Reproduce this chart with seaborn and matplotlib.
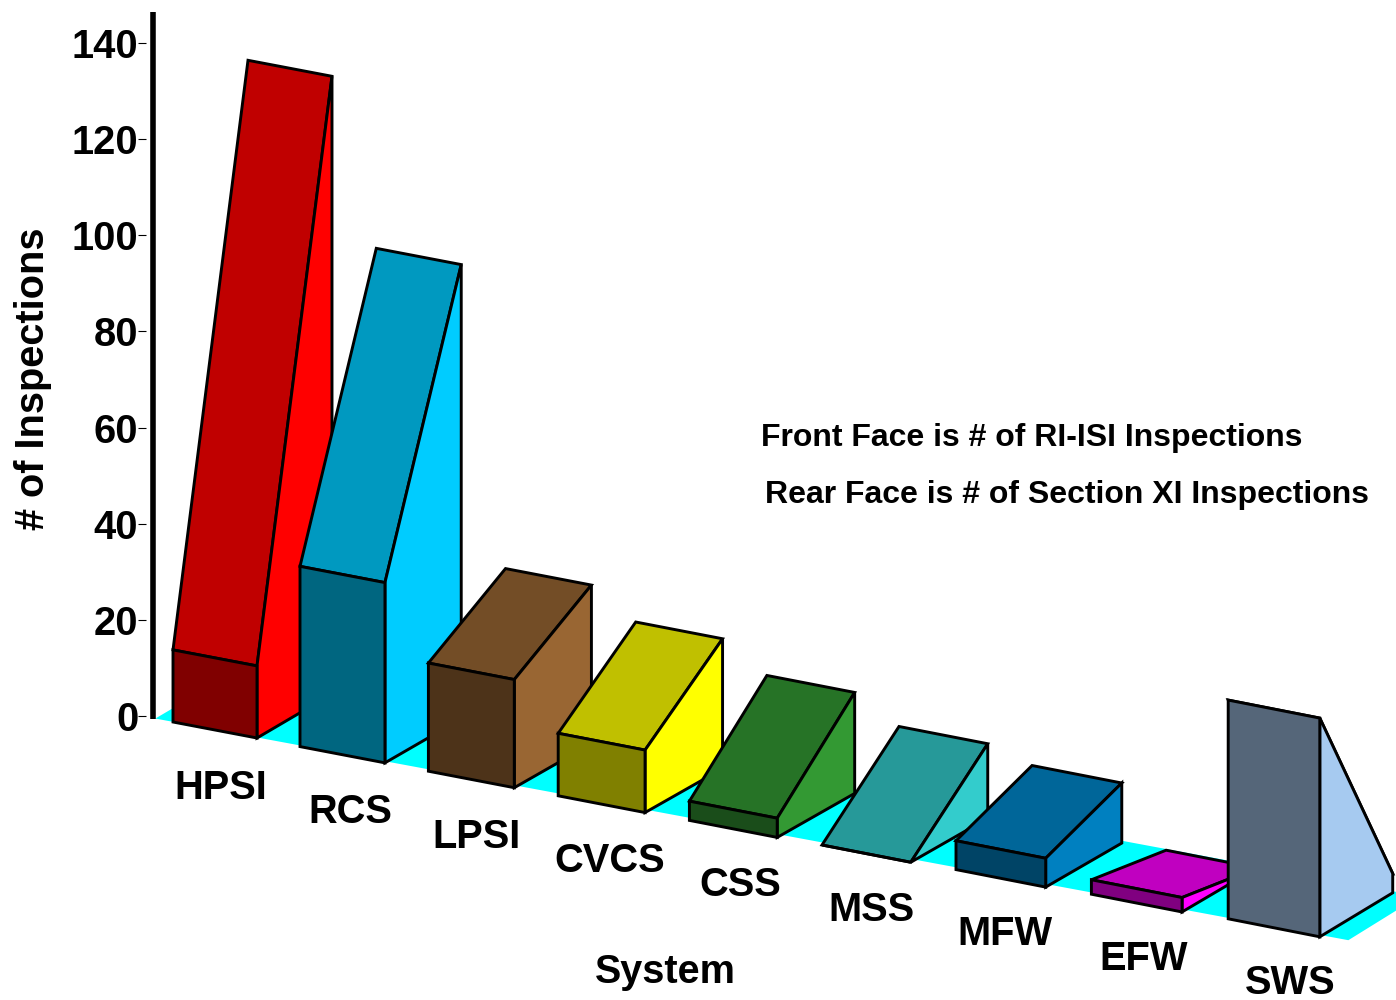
import matplotlib
matplotlib.use("Agg")
import matplotlib.pyplot as plt
import seaborn as sns

systems = ["HPSI", "RCS", "LPSI", "CVCS", "CSS", "MSS", "MFW", "EFW", "SWS"]
ri_isi = [15, 37.5, 22.5, 13, 4, 0, 6, 3, 45.5]
section_xi = [128.5, 94.5, 33, 27, 21, 15.5, 12.5, 0, 4]
y_ticks = [0, 20, 40, 60, 80, 100, 120, 140]
front_colors = ["#800000", "#006680", "#4D3319", "#808000", "#1A4D1A", "#269999", "#004466", "#800080", "#556679"]
top_colors = ["#C00000", "#0099C0", "#734D26", "#C0C000", "#267326", "#269999", "#006699", "#C000C0", "#556679"]
side_colors = ["#FF0000", "#00CCFF", "#996633", "#FFFF00", "#339933", "#33CCCC", "#0080C0", "#FF00FF", "#A6CAF0"]
label_nudge = [1, 2, -2, 0, -2, -5, -7, -5, 3]

sns.set_theme(style="white")
plt.rcParams["font.family"] = ["Liberation Sans", "DejaVu Sans"]
plt.rcParams["font.weight"] = "bold"
plt.rcParams["text.color"] = "black"

W, H = 1396, 1000
PX = 4.807  # pixels per inspection
ZERO = 716  # pixel row of zero
fig = plt.figure(figsize=(W / 100, H / 100), dpi=100, facecolor="white")
ax = fig.add_axes([146 / W, 0, 1 - 146 / W, 1])
ax.set_xlim(146, W)
ax.set_ylim((ZERO - H) / PX, ZERO / PX)


def project(slot, across, depth, height):
    """Oblique view: slot along the floor, across the bar (0-1), depth (0-1), height in inspections."""
    deep = 75 + 1.5 * slot - 0.22 * slot * slot
    x = 173 + 127 * slot + 0.7 * slot * (slot - 1) + (84 + 0.95 * slot) * across + deep * depth
    drop = 6 + 24.6 * slot + (16 + 0.25 * slot) * across - 44 * depth
    return x, height - drop / PX


def quad(corners, color, z):
    pts = [project(*c) for c in corners]
    ax.fill([p[0] for p in pts], [p[1] for p in pts], facecolor=color, edgecolor="black",
            linewidth=2.1, joinstyle="miter", zorder=z)


# floor
floor = [project(-0.14, 0, 0, 0), project(8.87, 0, 0, 0), project(8.87, 0, 1, 0), project(-0.14, 0, 1, 0)]
ax.fill([p[0] for p in floor], [p[1] for p in floor], facecolor="#00FFFF", edgecolor="none", zorder=1)

# bars, left to right
for i, name in enumerate(systems):
    f, r = ri_isi[i], section_xi[i]
    z = 2 + i
    quad([(i, 0, 0, f), (i, 1, 0, f), (i, 1, 1, r), (i, 0, 1, r)], top_colors[i], z)
    quad([(i, 1, 0, 0), (i, 1, 0, f), (i, 1, 1, r), (i, 1, 1, 0)], side_colors[i], z)
    quad([(i, 0, 0, 0), (i, 1, 0, 0), (i, 1, 0, f), (i, 0, 0, f)], front_colors[i], z)
    lx, ly = project(i, 0.5, 0, 0)
    ax.text(lx + 5 + i + label_nudge[i], ly - (58 - 0.35 * i) / PX, name, ha="center", va="center", fontsize=28.7,
            fontweight="bold", color="black", zorder=20)

# axis
ax.plot([153, 153], [-0.6, (ZERO - 12) / PX], color="black", linewidth=4, solid_capstyle="butt", zorder=15)
for s in ax.spines.values():
    s.set_visible(False)
ax.set_xticks([])
ax.set_yticks(y_ticks)
ax.tick_params(axis="y", left=True, length=5.5, width=0.8, color="black", pad=0, labelsize=28.7, labelcolor="black")
ax.patch.set_alpha(0)

fig.text(33 / W, 1 - 379 / H, "# of Inspections", rotation=90, ha="center", va="center", fontsize=28.6, fontweight="bold")
fig.text(665 / W, 1 - 972 / H, "System", ha="center", va="center", fontsize=28.5, fontweight="bold")
fig.text(761 / W, 1 - 438 / H, "Front Face is # of RI-ISI Inspections", ha="left", va="center", fontsize=23, fontweight="bold")
fig.text(765 / W, 1 - 495 / H, "Rear Face is # of Section XI Inspections", ha="left", va="center", fontsize=23, fontweight="bold")

fig.savefig("out.png", dpi=100, facecolor="white")
